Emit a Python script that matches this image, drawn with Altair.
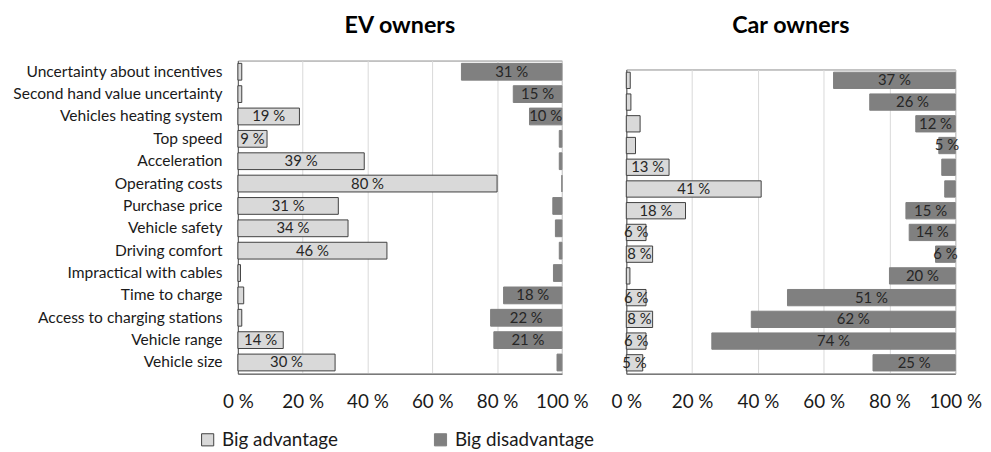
import altair as alt
import pandas as pd

categories = [
    "Uncertainty about incentives",
    "Second hand value uncertainty",
    "Vehicles heating system",
    "Top speed",
    "Acceleration",
    "Operating costs",
    "Purchase price",
    "Vehicle safety",
    "Driving comfort",
    "Impractical with cables",
    "Time to charge",
    "Access to charging stations",
    "Vehicle range",
    "Vehicle size",
]

series_names = ["Big advantage", "Big disadvantage"]

ev_advantage = [1.2, 1.2, 19, 9, 39, 80, 31, 34, 46, 0.8, 1.8, 1.2, 14, 30]
ev_disadvantage = [31, 15, 10, 0.8, 0.8, 0, 2.8, 2, 0.8, 2.6, 18, 22, 21, 1.5]

car_advantage = [1.2, 1.4, 4.2, 2.8, 13, 41, 18, 6, 8, 1.1, 6, 8, 6, 5]
car_disadvantage = [37, 26, 12, 5, 4.1, 3.2, 15, 14, 6, 20, 51, 62, 74, 25]

tick_values = [0, 20, 40, 60, 80, 100]

FONT = "Lato"


def make_frame(adv, dis):
    rows = []
    for c, a, d in zip(categories, adv, dis):
        rows.append({"category": c, "series": series_names[0], "value": a})
        rows.append({"category": c, "series": series_names[1], "value": d})
    return pd.DataFrame(rows)


def title_block(text, width):
    return (
        alt.Chart(pd.DataFrame({"v": [0]}))
        .mark_point(opacity=0, size=0)
        .encode(x=alt.value(0), y=alt.value(0))
        .properties(
            width=width,
            height=1,
            title=alt.TitleParams(
                text,
                font=FONT,
                fontSize=23.5,
                fontWeight="bold",
                color="#000000",
                offset=9,
                anchor="middle",
            ),
            view=alt.ViewBackground(strokeWidth=0),
        )
    )


def panel(adv, dis, height, width, show_labels):
    df = make_frame(adv, dis)
    base = alt.Chart(df).transform_calculate(
        start=f"datum.series == '{series_names[0]}' ? 0 : 100 - datum.value",
        end=f"datum.series == '{series_names[0]}' ? datum.value : 100",
        mid=f"datum.series == '{series_names[0]}' ? datum.value / 2 : 100 - datum.value / 2",
        label="datum.value >= 4.5 ? format(round(datum.value), 'd') + ' %' : ''",
    )
    y_enc = alt.Y(
        "category:N",
        sort=categories,
        title=None,
        scale=alt.Scale(paddingInner=0.25, paddingOuter=0.125),
        axis=alt.Axis(
            labels=show_labels,
            ticks=False,
            domain=True,
            domainColor="#595959",
            labelFont=FONT,
            labelFontSize=15.7,
            labelColor="#1a1a1a",
            labelPadding=16,
            labelLimit=300,
            grid=False,
        ),
    )
    x_scale = alt.Scale(domain=[0, 100], nice=False)
    bars = base.mark_bar(strokeWidth=1).encode(
        y=y_enc,
        x=alt.X(
            "start:Q",
            scale=x_scale,
            title=None,
            axis=alt.Axis(
                values=tick_values,
                labelExpr="datum.value + ' %'",
                labelOverlap=False,
                labelFlush=False,
                ticks=False,
                domainColor="#595959",
                grid=True,
                gridColor="#d9d9d9",
                labelFont=FONT,
                labelFontSize=19,
                labelColor="#1a1a1a",
                labelPadding=19,
            ),
        ),
        x2="end:Q",
        fill=alt.Fill(
            "series:N",
            scale=alt.Scale(domain=series_names, range=["#d9d9d9", "#808080"]),
            title=None,
        ),
        stroke=alt.Stroke(
            "series:N",
            scale=alt.Scale(domain=series_names, range=["#404040", "#808080"]),
            title=None,
        ),
    )
    labels = base.mark_text(
        font=FONT, fontSize=15, color="#262626", baseline="middle", align="center"
    ).encode(
        y=alt.Y("category:N", sort=categories),
        x=alt.X("mid:Q", scale=x_scale),
        text="label:N",
    )
    return (bars + labels).properties(width=width, height=height)


ev = panel(ev_advantage, ev_disadvantage, 316, 327, True)
car = panel(car_advantage, car_disadvantage, 307, 332, False)

left = alt.vconcat(title_block("EV owners", 327), ev, spacing=12)
right = alt.vconcat(title_block("Car owners", 332), car, spacing=21)

chart = (
    alt.hconcat(left, right, spacing=20, bounds="full")
    .resolve_scale(y="independent")
    .configure_view(stroke="#8c8c8c", strokeWidth=1)
    .configure_legend(
        orient="none",
        legendX=-40,
        legendY=387,
        direction="horizontal",
        labelFont=FONT,
        labelFontSize=19,
        labelColor="#1a1a1a",
        symbolType="square",
        symbolSize=150,
        symbolStrokeWidth=1,
        columnPadding=94,
        labelOffset=5,
    )
    .properties(padding={"left": 4, "top": 4, "right": 0, "bottom": 0}, background="white")
)

chart.save("out.html", embed_options={"renderer": "svg", "actions": False})
